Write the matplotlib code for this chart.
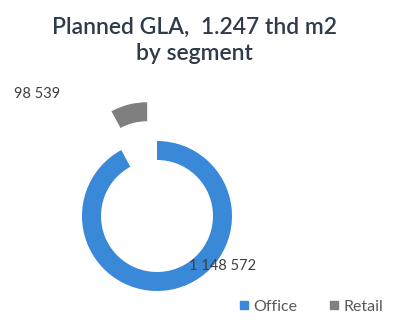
import matplotlib
matplotlib.use("Agg")
import matplotlib.pyplot as plt
from matplotlib.lines import Line2D

segments = ["Office", "Retail"]
values = [1148572, 98539]
value_labels = ["1 148 572", "98 539"]
colors = ["#3a88d8", "#7f7f7f"]
title = "Planned GLA,  1.247 thd m2\nby segment"

plt.rcParams['font.family'] = ['Lato', 'DejaVu Sans']

fig = plt.figure(figsize=(4, 3.2), dpi=100)
ax = fig.add_axes([0, 0, 1, 1])
W, H = 400, 320
cx, cy, R = 157, H - 216, 75

ax.pie(values, colors=colors, startangle=90, counterclock=False,
       center=(cx, cy), radius=R, explode=[0, 40],
       wedgeprops=dict(width=19, linewidth=0))
ax.set_xlim(0, W)
ax.set_ylim(0, H)
ax.set_aspect('equal')
ax.axis('off')

ax.text(223, H - 266, value_labels[0], ha='center', va='center', fontsize=10.5, color='#404040')
ax.text(37, H - 94, value_labels[1], ha='center', va='center', fontsize=10.5, color='#404040')

fig.text(0.485, 0.875, title, ha='center', va='center', fontsize=16.5,
         color='#2f3b4b', linespacing=1.3, fontweight='semibold')

handles = [Line2D([0], [0], marker='s', linestyle='none', markersize=6,
                  markerfacecolor=c, markeredgecolor=c) for c in colors]
fig.legend(handles, segments, loc='lower right', bbox_to_anchor=(0.995, -0.025), ncol=2,
           frameon=False, fontsize=11.5, labelcolor='#595959', handletextpad=0.1,
           columnspacing=1.8, handlelength=1.0)

fig.savefig("out.png", dpi=100, facecolor='white')
